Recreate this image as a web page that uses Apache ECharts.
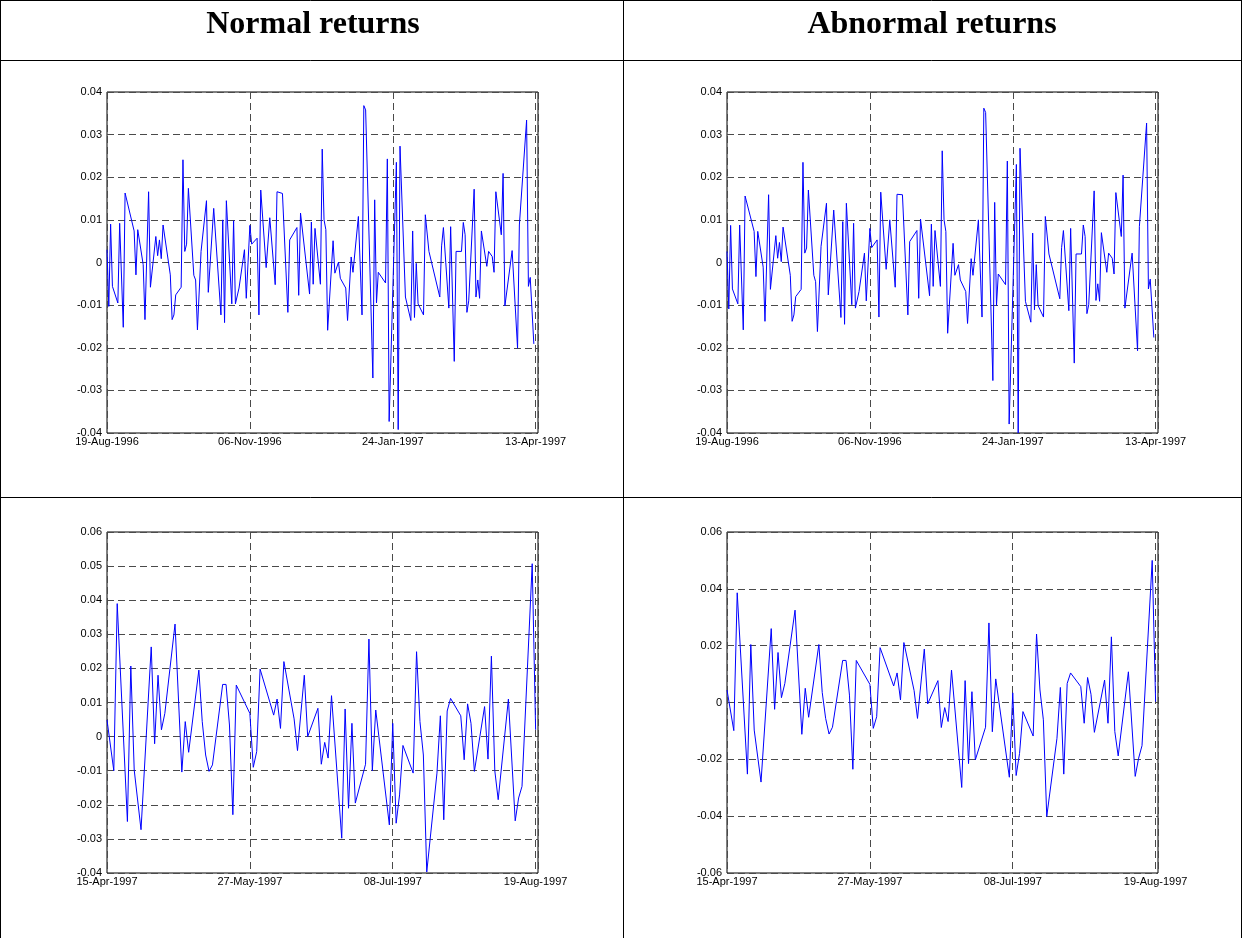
<!DOCTYPE html>
<html>
<head>
<meta charset="utf-8">
<script src="https://cdn.jsdelivr.net/npm/echarts@6/dist/echarts.min.js"></script>
<style>
html,body{margin:0;padding:0;background:#fff;}
#chart{width:1242px;height:938px;}
</style>
</head>
<body>
<div id="chart"></div>
<script>
// ---------- DATA ----------
const headers = ['Normal returns', 'Abnormal returns'];

// Period 1: day offsets from 19-Aug-1996
const days1 = [0,1,2,3,6,7,9,10,15,16,17,20,21,23,24,27,28,29,30,31,35,36,37,38,41,42,43,44,45,48,49,50,52,55,56,59,63,64,65,66,69,70,71,73,76,77,79,80,83,84,85,88,90,93,94,97,100,101,105,106,107,112,113,114,115,118,119,120,121,122,125,126,128,129,132,133,135,136,139,141,142,143,147,148,149,150,154,155,156,160,161,162,165,168,169,170,171,172,175,176,177,178,184,185,186,189,190,192,193,196,197,198,199,200,203,204,205,206,207,210,211,213,214,215,218,219,220,224,227,228,232,233,234,235,236];
const normal1 = [0.0030,-0.0103,0.0090,-0.0056,-0.0095,0.0092,-0.0152,0.0163,0.0074,-0.0029,
0.0077,-0.0005,-0.0134,0.0166,-0.0058,0.0061,0.0016,0.0053,0.0009,0.0088,
-0.0029,-0.0134,-0.0123,-0.0076,-0.0058,0.0241,0.0026,0.0043,0.0174,-0.0030,
-0.0041,-0.0158,0.0026,0.0145,-0.0070,0.0127,-0.0123,0.0100,-0.0141,0.0145,
-0.0097,0.0098,-0.0097,-0.0060,0.0030,-0.0084,0.0087,0.0043,0.0057,-0.0123,
0.0170,-0.0012,0.0105,-0.0052,0.0166,0.0162,-0.0117,0.0053,0.0082,-0.0077,
0.0116,-0.0074,0.0095,-0.0051,0.0080,-0.0051,0.0266,0.0100,0.0077,-0.0159,
0.0051,-0.0025,0.0001,-0.0037,-0.0060,-0.0136,0.0013,-0.0023,0.0108,-0.0123,
0.0368,0.0358,-0.0271,0.0147,-0.0095,-0.0023,-0.0048,0.0243,-0.0373,0.0235,
-0.0392,0.0273,-0.0081,-0.0136,0.0074,-0.0129,-0.0002,-0.0097,-0.0123,0.0112,
0.0112,0.0026,-0.0081,0.0039,0.0082,-0.0107,0.0084,-0.0232,0.0026,0.0026,
0.0094,0.0065,-0.0117,-0.0090,0.0172,-0.0081,-0.0041,-0.0084,0.0074,-0.0009,
0.0026,0.0014,-0.0023,0.0166,0.0065,0.0209,-0.0102,0.0028,-0.0201,0.0088,
0.0334,-0.0056,-0.0035,-0.0035,-0.0191];
const abnormal1 = [0.0026,-0.0109,0.0087,-0.0062,-0.0097,0.0088,-0.0158,0.0156,0.0073,-0.0033,
0.0073,-0.0011,-0.0138,0.0159,-0.0063,0.0063,0.0010,0.0047,0.0002,0.0083,
-0.0030,-0.0138,-0.0123,-0.0080,-0.0063,0.0235,0.0022,0.0034,0.0170,-0.0030,
-0.0045,-0.0162,0.0038,0.0139,-0.0076,0.0123,-0.0129,0.0096,-0.0145,0.0139,
-0.0099,0.0092,-0.0107,-0.0068,0.0022,-0.0090,0.0080,0.0035,0.0053,-0.0128,
0.0165,-0.0016,0.0100,-0.0058,0.0160,0.0159,-0.0123,0.0049,0.0075,-0.0084,
0.0102,-0.0078,0.0090,-0.0056,0.0075,-0.0056,0.0262,0.0100,0.0073,-0.0166,
0.0045,-0.0030,-0.0005,-0.0041,-0.0068,-0.0143,0.0009,-0.0030,0.0100,-0.0128,
0.0362,0.0352,-0.0277,0.0141,-0.0101,-0.0027,-0.0052,0.0238,-0.0379,0.0230,
-0.0400,0.0268,-0.0091,-0.0140,0.0069,-0.0111,-0.0005,-0.0101,-0.0128,0.0108,
0.0106,0.0020,-0.0085,0.0035,0.0075,-0.0113,0.0080,-0.0236,0.0020,0.0020,
0.0088,0.0061,-0.0120,-0.0099,0.0168,-0.0089,-0.0050,-0.0091,0.0070,-0.0023,
0.0022,0.0010,-0.0027,0.0164,0.0061,0.0205,-0.0107,0.0022,-0.0207,0.0084,
0.0327,-0.0062,-0.0039,-0.0039,-0.0176];
const xTicks1 = ['19-Aug-1996','06-Nov-1996','24-Jan-1997','13-Apr-1997'];

// Period 2: day offsets from 15-Apr-1997
const days2 = [0,2,3,6,7,8,10,13,14,15,16,17,20,22,23,24,27,28,29,30,31,34,35,36,37,38,42,43,44,45,49,50,51,52,55,56,58,59,62,63,64,65,66,69,70,71,72,73,76,77,78,79,83,84,85,86,87,90,91,92,93,94,97,98,99,100,101,104,105,106,107,108,111,112,113,114,115,118,120,121,122,125,126];
const normal2 = [0.0049,-0.0100,0.0390,-0.0249,0.0207,-0.0098,-0.0273,0.0263,-0.0021,0.0180,
0.0020,0.0068,0.0330,-0.0104,0.0044,-0.0046,0.0195,0.0044,-0.0054,-0.0102,
-0.0083,0.0153,0.0153,0.0034,-0.0229,0.0151,0.0068,-0.0090,-0.0044,0.0198,
0.0063,0.0110,0.0024,0.0220,0.0052,-0.0041,0.0180,0.0000,0.0083,-0.0081,
-0.0017,-0.0063,0.0120,-0.0298,0.0081,-0.0210,0.0039,-0.0195,-0.0081,0.0286,
-0.0100,0.0078,-0.0259,0.0039,-0.0254,-0.0171,-0.0026,-0.0107,0.0249,0.0044,
-0.0054,-0.0397,-0.0107,0.0061,-0.0244,0.0075,0.0112,0.0061,-0.0068,0.0096,
0.0039,-0.0102,0.0088,-0.0066,0.0236,-0.0100,-0.0185,0.0110,-0.0247,-0.0180,
-0.0146,0.0507,0.0020];
const abnormal2 = [0.0044,-0.0099,0.0386,-0.0252,0.0204,-0.0097,-0.0280,0.0260,-0.0024,0.0176,
0.0017,0.0067,0.0325,-0.0112,0.0050,-0.0052,0.0204,0.0035,-0.0056,-0.0111,
-0.0087,0.0148,0.0148,0.0026,-0.0235,0.0148,0.0064,-0.0091,-0.0050,0.0193,
0.0058,0.0104,0.0009,0.0211,0.0042,-0.0056,0.0188,-0.0005,0.0077,-0.0088,
-0.0018,-0.0067,0.0114,-0.0299,0.0077,-0.0215,0.0038,-0.0202,-0.0087,0.0280,
-0.0103,0.0083,-0.0263,0.0034,-0.0257,-0.0179,-0.0032,-0.0118,0.0241,0.0044,
-0.0061,-0.0401,-0.0126,0.0053,-0.0252,0.0067,0.0104,0.0056,-0.0073,0.0088,
0.0029,-0.0105,0.0079,-0.0073,0.0231,-0.0102,-0.0188,0.0108,-0.0260,-0.0196,
-0.0152,0.0500,0.0003];
const xTicks2 = ['15-Apr-1997','27-May-1997','08-Jul-1997','19-Aug-1997'];

// ---------- CHART ----------
const panels = [
  {left:107, top:92,  days:days1, vals:normal1,   ticks:xTicks1, xInt:79, xMax:238.3, yMin:-0.04, yMax:0.04, yInt:0.01},
  {left:727, top:92,  days:days1, vals:abnormal1, ticks:xTicks1, xInt:79, xMax:238.3, yMin:-0.04, yMax:0.04, yInt:0.01},
  {left:107, top:532, days:days2, vals:normal2,   ticks:xTicks2, xInt:42, xMax:126.7, yMin:-0.04, yMax:0.06, yInt:0.01},
  {left:727, top:532, days:days2, vals:abnormal2, ticks:xTicks2, xInt:42, xMax:126.7, yMin:-0.06, yMax:0.06, yInt:0.02}
];
const W = 431, H = 341;
const FONT = '"Liberation Sans", Arial, sans-serif';
const grid = [], xAxis = [], yAxis = [], series = [];
const dash = {color:'#4a4a4a', width:1, type:[7,4]};

panels.forEach((p, i) => {
  grid.push({left:p.left, top:p.top, width:W, height:H, show:true, borderColor:'#000', borderWidth:1, backgroundColor:'#fff'});
  const xl = (v) => {
    const k = v / p.xInt;
    if (Math.abs(k - Math.round(k)) > 1e-6) return '';
    return p.ticks[Math.round(k)] || '';
  };
  xAxis.push({gridIndex:i, type:'value', min:0, max:p.xMax, interval:p.xInt, position:'bottom',
    axisLine:{show:false}, axisTick:{show:false},
    splitLine:{show:true, lineStyle:dash},
    axisLabel:{show:true, formatter:xl, color:'#000', fontSize:11, fontFamily:FONT, margin:3, showMinLabel:true, showMaxLabel:true, hideOverlap:false}});
  const yl = (v) => {
    const r = Math.round(v * 100) / 100;
    return r === 0 ? '0' : String(r);
  };
  yAxis.push({gridIndex:i, type:'value', min:p.yMin, max:p.yMax, interval:p.yInt, position:'left',
    axisLine:{show:false}, axisTick:{show:false},
    splitLine:{show:true, lineStyle:dash},
    axisLabel:{show:true, formatter:yl, color:'#000', fontSize:11, fontFamily:FONT, margin:5}});
  series.push({type:'line', xAxisIndex:i, yAxisIndex:i, data:p.days.map((d, j) => [d, p.vals[j]]),
    showSymbol:false, symbol:'none', lineStyle:{color:'#0000ff', width:1}, clip:true, animation:false});
});

const lineStyle = {stroke:'#000', lineWidth:1};
const hFont = 'bold 32px "Liberation Serif", "Times New Roman", serif';
const graphic = [
  {type:'line', shape:{x1:0.5, y1:0.5, x2:1241.5, y2:0.5}, style:lineStyle, silent:true},
  {type:'line', shape:{x1:0.5, y1:60.5, x2:1241.5, y2:60.5}, style:lineStyle, silent:true},
  {type:'line', shape:{x1:0.5, y1:497.5, x2:1241.5, y2:497.5}, style:lineStyle, silent:true},
  {type:'line', shape:{x1:0.5, y1:0, x2:0.5, y2:938}, style:lineStyle, silent:true},
  {type:'line', shape:{x1:623.5, y1:0, x2:623.5, y2:938}, style:lineStyle, silent:true},
  {type:'line', shape:{x1:1241.5, y1:0, x2:1241.5, y2:938}, style:lineStyle, silent:true},
  {type:'text', x:313, y:25, style:{text:headers[0], fill:'#000', font:hFont, textAlign:'center', textVerticalAlign:'middle'}, silent:true},
  {type:'text', x:932, y:25, style:{text:headers[1], fill:'#000', font:hFont, textAlign:'center', textVerticalAlign:'middle'}, silent:true}
];

const chart = echarts.init(document.getElementById('chart'), null, {renderer:'canvas'});
chart.setOption({animation:false, backgroundColor:'#fff', grid, xAxis, yAxis, series, graphic});
</script>
</body>
</html>
